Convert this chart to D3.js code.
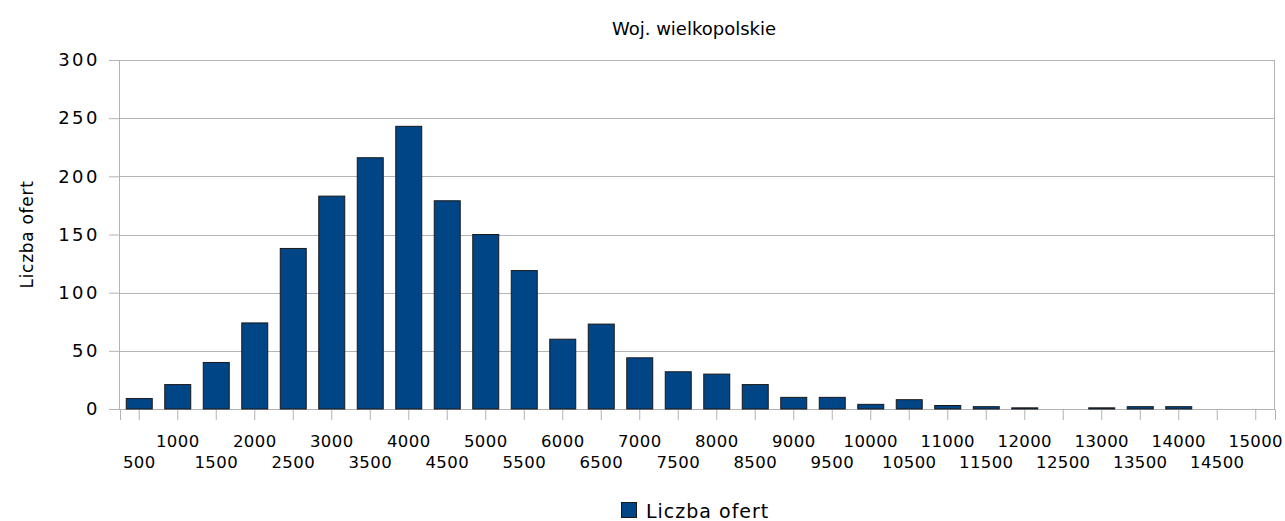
<!DOCTYPE html>
<html>
<head>
<meta charset="utf-8">
<script src="https://cdn.jsdelivr.net/npm/d3@7"></script>
<style>
  body { margin: 0; background: #fff; }
  text { font-family: "DejaVu Sans", Verdana, sans-serif; fill: #000; }
</style>
</head>
<body>
<div id="chart"></div>
<script>
  // data
  var categories = ["500", "1000", "1500", "2000", "2500", "3000", "3500", "4000", "4500", "5000",
    "5500", "6000", "6500", "7000", "7500", "8000", "8500", "9000", "9500", "10000",
    "10500", "11000", "11500", "12000", "12500", "13000", "13500", "14000", "14500", "15000"];
  var counts = [9, 21, 40, 74, 138, 183, 216, 243, 179, 150,
    119, 60, 73, 44, 32, 30, 21, 10, 10, 4,
    8, 3, 2, 1, 0, 1, 2, 2, 0, 0];
  var yTicks = [0, 50, 100, 150, 200, 250, 300];
  var seriesName = "Liczba ofert";
  var chartTitle = "Woj. wielkopolskie";

  var data = categories.map(function (c, i) { return { cat: c, value: counts[i] }; });

  var W = 1285, H = 521;
  var margin = { top: 60, right: 10, bottom: 112, left: 120 };
  var width = 1275 - margin.left;
  var height = 409 - margin.top;

  var svg = d3.select("#chart")
    .append("svg")
    .attr("width", W)
    .attr("height", H);

  var g = svg.append("g")
    .attr("transform", "translate(" + margin.left + "," + margin.top + ")");

  var x = d3.scaleBand()
    .range([0, width])
    .domain(categories)
    .paddingInner(0.325)
    .paddingOuter(0.1625);

  var y = d3.scaleLinear()
    .domain([0, 300])
    .range([height, 0]);

  // gridlines + y axis
  var yAxis = g.append("g")
    .call(d3.axisLeft(y).tickValues(yTicks).tickSize(11).tickPadding(9));
  yAxis.select(".domain").remove();
  yAxis.selectAll(".tick line").attr("stroke", "#b3b3b3");
  yAxis.selectAll(".tick text")
    .style("font-size", "18px")
    .style("letter-spacing", "2.5px");

  g.append("g")
    .selectAll("line.grid")
    .data(yTicks)
    .enter()
    .append("line")
    .attr("x1", 0)
    .attr("x2", width)
    .attr("y1", function (d) { return Math.round(y(d)) + 0.5; })
    .attr("y2", function (d) { return Math.round(y(d)) + 0.5; })
    .attr("stroke", "#b3b3b3");

  // left and right borders
  g.append("line").attr("x1", -0.5).attr("x2", -0.5).attr("y1", 0).attr("y2", height)
    .attr("stroke", "#b3b3b3");
  g.append("line").attr("x1", width - 0.5).attr("x2", width - 0.5).attr("y1", 0).attr("y2", height)
    .attr("stroke", "#b3b3b3");

  // x axis with staggered labels
  var xAxis = g.append("g")
    .attr("transform", "translate(0," + height + ")")
    .call(d3.axisBottom(x).tickSize(11).tickPadding(0));
  xAxis.select(".domain").attr("stroke", "#b3b3b3");
  xAxis.selectAll(".tick line").attr("stroke", "#b3b3b3");
  xAxis.selectAll(".tick text")
    .style("font-size", "16.5px")
    .style("letter-spacing", "0.4px")
    .attr("dy", null)
    .attr("y", function (d, i) { return i % 2 === 1 ? 38 : 59; });

  // bars
  g.selectAll("rect.bar")
    .data(data)
    .enter()
    .append("rect")
    .attr("class", "bar")
    .attr("x", function (d) { return x(d.cat); })
    .attr("width", x.bandwidth())
    .attr("y", function (d) { return y(d.value); })
    .attr("height", function (d) { return height - y(d.value); })
    .attr("fill", "#004586")
    .attr("stroke", "#1a1a1a")
    .attr("stroke-width", 1)
    .style("display", function (d) { return d.value > 0 ? null : "none"; });

  // title
  svg.append("text")
    .attr("x", 694)
    .attr("y", 35)
    .attr("text-anchor", "middle")
    .style("font-size", "18px")
    .text(chartTitle);

  // y axis title
  svg.append("text")
    .attr("transform", "translate(33," + (margin.top + height / 2) + ") rotate(-90)")
    .attr("text-anchor", "middle")
    .style("font-size", "17px")
    .style("letter-spacing", "0.7px")
    .text(seriesName);

  // legend
  var legend = svg.append("g").attr("transform", "translate(621,502)");
  legend.append("rect")
    .attr("x", 0.5)
    .attr("y", 0.5)
    .attr("width", 15)
    .attr("height", 15)
    .attr("fill", "#004586")
    .attr("stroke", "#1a1a1a");
  legend.append("text")
    .attr("x", 25)
    .attr("y", 16)
    .style("font-size", "19px")
    .style("letter-spacing", "1px")
    .text(seriesName);
</script>
</body>
</html>
